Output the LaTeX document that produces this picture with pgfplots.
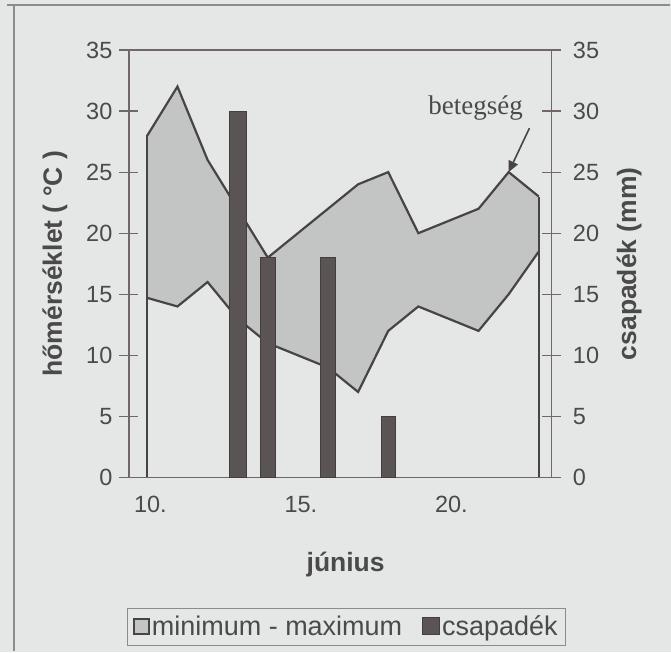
\documentclass[border=0pt]{standalone}
\usepackage{pgfplots}
\pgfplotsset{compat=1.18}
\usepackage{pgfplotstable}
\usepgfplotslibrary{fillbetween}
\usetikzlibrary{arrows.meta}
\usepackage{fontspec}
\setmainfont{Liberation Sans}
\newfontfamily\seriffont{Liberation Serif}

\definecolor{bg}{RGB}{229,230,230}
\definecolor{bandfill}{RGB}{195,196,196}
\definecolor{edge}{RGB}{72,68,68}
\definecolor{barfill}{RGB}{90,84,84}
\definecolor{axisgray}{RGB}{112,104,104}
\definecolor{textgray}{RGB}{74,74,74}
\definecolor{framegray}{RGB}{140,140,140}
\pagecolor{bg}

% daily minimum and maximum temperature (°C), June
\pgfplotstableread{
day tmin tmax
10 14.7 28
11 14   32
12 16   26
13 13   22
14 11   18
15 10   20
16 9    22
17 7    24
18 12   25
19 14   20
20 13   21
21 12   22
22 15   25
23 18.5 23
}\temps

% daily precipitation (mm)
\pgfplotstableread{
day rain
13 30
14 18
16 18
18 5
}\rain

\pgfplotsset{
  common/.style={
    scale only axis, width=211.5pt, height=214pt,
    at={(64.5pt,87pt)}, anchor=south west,
    xmin=9.386, xmax=23.42, ymin=0, ymax=35,
    ytick={0,5,...,35},
    axis line style={axisgray, line width=0.8pt},
    tick style={axisgray, line width=0.6pt},
    tick align=center, major tick length=9.5pt, minor tick length=6pt,
    ticklabel style={font=\fontsize{11.75}{14}\selectfont, text=textgray},
    /pgf/number format/assume math mode=true,
    label style={font=\bfseries\fontsize{13.25}{16}\selectfont, text=textgray},
  },
  sqlegend/.style={legend image code/.code={\draw[##1] (0pt,-3.4pt) rectangle (7.5pt,4.1pt);}},
  sqlegendbig/.style={legend image code/.code={\draw[##1] (0pt,-3.9pt) rectangle (8.5pt,4.6pt);}},
  rainbar/.style={ybar, fill=barfill, draw=barfill!75!black, line width=0.5pt},
}

\begin{document}
\begin{tikzpicture}
\path (0,0) rectangle (335.5pt,326pt);
\draw[framegray, line width=0.7pt] (7pt,0) -- (7pt,323.5pt);
\draw[framegray, line width=0.7pt] (3.5pt,323.5pt) -- (335.5pt,323.5pt);

% temperature band, left axis
\begin{axis}[common,
  xtick=\empty,
  extra x ticks={10,15,20}, extra x tick labels={10.,15.,20.},
  extra x tick style={major tick length=0pt},
  minor xtick={9.5,10.5,...,23.5},
  xtick pos=lower, ytick pos=left,
  xticklabel style={xshift=1.5pt, yshift=-6pt},
  xlabel={június}, ylabel={hőmérséklet ( °C )},
  xlabel style={at={(axis description cs:0.513,-0.203)}, anchor=center},
  ylabel style={at={(axis description cs:-0.175,0.5)}, anchor=center},
]
% band outline paths first, then the fill, then the edges on top
\addplot[name path=hi, draw=none] table[x=day, y=tmax]{\temps};
\addplot[name path=lo, draw=none] table[x=day, y=tmin]{\temps};
\addplot[bandfill] fill between[of=hi and lo];
\addplot[edge, line width=1.1pt] table[x=day, y=tmax]{\temps};
\addplot[edge, line width=1.1pt] table[x=day, y=tmin]{\temps};
\addplot[edge, line width=1.1pt, ycomb, skip coords between index={1}{13}] table[x=day, y=tmax]{\temps};
\node[font=\seriffont\fontsize{13.5}{16}\selectfont, text=textgray] at (axis cs:20.9,30.25) {betegség};
\draw[edge, line width=0.8pt, -{Triangle[length=5.5pt,width=5pt]}] (axis cs:22.69,28.6) -- (axis cs:22,25);
\end{axis}

% precipitation bars, right axis
\begin{axis}[common,
  axis x line=none, axis y line*=right,
  yticklabel style={xshift=2.5pt},
  ylabel={csapadék (mm)},
  ylabel style={at={(axis description cs:1.184,0.5)}, anchor=center},
  legend columns=2, legend cell align=left,
  legend style={at={(axis description cs:0.515,-0.35)}, anchor=center,
    draw=framegray, fill=bg, line width=0.6pt,
    font=\fontsize{13.5}{16}\selectfont, text=textgray,
    inner xsep=3pt, inner ysep=1.5pt,
    nodes={inner xsep=1pt, inner ysep=2pt},
    /tikz/every even column/.append style={column sep=9pt}},
]
\addlegendimage{sqlegend, fill=bandfill, draw=edge, line width=0.8pt}
\addlegendentry{minimum - maximum}
% the heavy rain day is drawn a little wider
\addplot[rainbar, bar width=0.56, forget plot, skip coords between index={1}{4}] table[x=day, y=rain]{\rain};
\addplot[rainbar, bar width=0.48, sqlegendbig, skip coords between index={0}{1}] table[x=day, y=rain]{\rain};
\addlegendentry{csapadék}
\end{axis}
\end{tikzpicture}
\end{document}
